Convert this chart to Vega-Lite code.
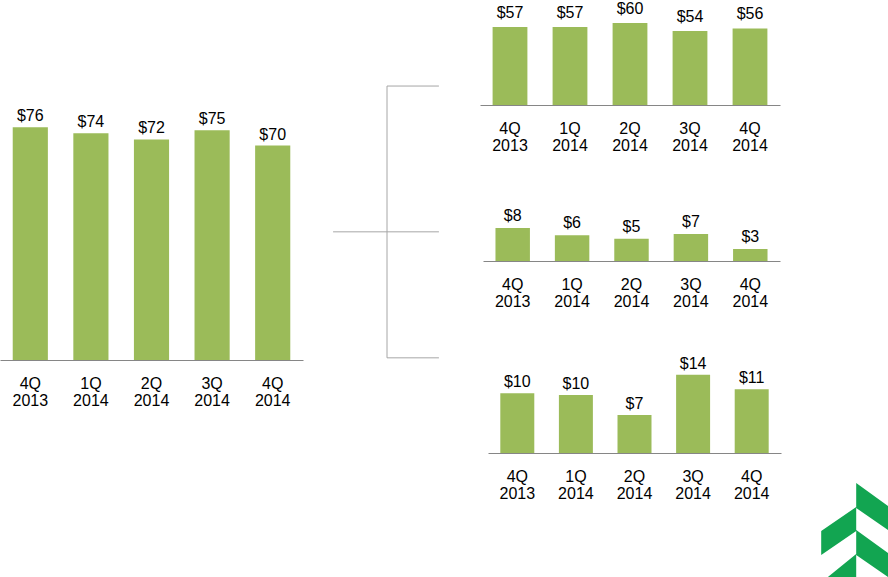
{
  "$schema": "https://vega.github.io/schema/vega-lite/v6.json",
  "padding": 0,
  "background": "white",
  "datasets": {
    "quarters": [
      {"group": "Total", "quarter": "4Q 2013", "value": 76},
      {"group": "Total", "quarter": "1Q 2014", "value": 74},
      {"group": "Total", "quarter": "2Q 2014", "value": 72},
      {"group": "Total", "quarter": "3Q 2014", "value": 75},
      {"group": "Total", "quarter": "4Q 2014", "value": 70},
      {"group": "Part 1", "quarter": "4Q 2013", "value": 57},
      {"group": "Part 1", "quarter": "1Q 2014", "value": 57},
      {"group": "Part 1", "quarter": "2Q 2014", "value": 60},
      {"group": "Part 1", "quarter": "3Q 2014", "value": 54},
      {"group": "Part 1", "quarter": "4Q 2014", "value": 56},
      {"group": "Part 2", "quarter": "4Q 2013", "value": 8.05},
      {"group": "Part 2", "quarter": "1Q 2014", "value": 6.3},
      {"group": "Part 2", "quarter": "2Q 2014", "value": 5.4},
      {"group": "Part 2", "quarter": "3Q 2014", "value": 6.6},
      {"group": "Part 2", "quarter": "4Q 2014", "value": 2.9},
      {"group": "Part 3", "quarter": "4Q 2013", "value": 10.4},
      {"group": "Part 3", "quarter": "1Q 2014", "value": 10.1},
      {"group": "Part 3", "quarter": "2Q 2014", "value": 6.6},
      {"group": "Part 3", "quarter": "3Q 2014", "value": 13.6},
      {"group": "Part 3", "quarter": "4Q 2014", "value": 11.1}
    ]
  },
  "config": {
    "view": {"stroke": null},
    "font": "Liberation Sans",
    "axisX": {
      "domainColor": "#868686",
      "domainWidth": 1,
      "ticks": false,
      "grid": false,
      "labelFont": "Liberation Sans",
      "labelFontSize": 16,
      "labelColor": "#000000",
      "labelAngle": 0,
      "labelPadding": 15,
      "labelLineHeight": 17,
      "title": null
    },
    "text": {"font": "Liberation Sans", "fontSize": 16, "color": "#000000"},
    "bar": {"color": "#9BBB59"}
  },
  "spacing": 0,
  "hconcat": [
    {
      "width": 303,
      "height": 360,
      "data": {"name": "quarters"},
      "transform": [{"filter": "datum.group === 'Total'"}],
      "encoding": {
        "x": {
          "field": "quarter", "type": "nominal", "sort": null,
          "scale": {"paddingInner": 0.42, "paddingOuter": 0.21},
          "axis": {"labelExpr": "split(datum.label, ' ')"}
        },
        "y": {
          "field": "value", "type": "quantitative",
          "scale": {"domain": [0, 117.5], "nice": false},
          "axis": null
        }
      },
      "layer": [
        {"mark": {"type": "bar"}},
        {
          "mark": {"type": "text", "baseline": "alphabetic", "dy": -6},
          "encoding": {"text": {"field": "value", "type": "quantitative", "format": "$.0f"}}
        }
      ]
    },
    {
      "width": 177,
      "height": 360,
      "data": {"values": [{}]},
      "layer": [
        {
          "mark": {"type": "rule", "color": "#A6A6A6", "strokeWidth": 1},
          "encoding": {
            "x": {"datum": 0.17, "type": "quantitative", "scale": {"domain": [0, 1]}, "axis": null},
            "x2": {"datum": 0.768},
            "y": {"datum": 0.644, "type": "quantitative", "scale": {"domain": [0, 1], "reverse": true}, "axis": null}
          }
        },
        {
          "mark": {"type": "rule", "color": "#A6A6A6", "strokeWidth": 1},
          "encoding": {
            "x": {"datum": 0.4746, "type": "quantitative", "scale": {"domain": [0, 1]}, "axis": null},
            "y": {"datum": 0.239, "type": "quantitative", "scale": {"domain": [0, 1], "reverse": true}, "axis": null},
            "y2": {"datum": 0.994}
          }
        },
        {
          "mark": {"type": "rule", "color": "#A6A6A6", "strokeWidth": 1},
          "encoding": {
            "x": {"datum": 0.4746, "type": "quantitative", "scale": {"domain": [0, 1]}, "axis": null},
            "x2": {"datum": 0.768},
            "y": {"datum": 0.239, "type": "quantitative", "scale": {"domain": [0, 1], "reverse": true}, "axis": null}
          }
        },
        {
          "mark": {"type": "rule", "color": "#A6A6A6", "strokeWidth": 1},
          "encoding": {
            "x": {"datum": 0.4746, "type": "quantitative", "scale": {"domain": [0, 1]}, "axis": null},
            "x2": {"datum": 0.768},
            "y": {"datum": 0.994, "type": "quantitative", "scale": {"domain": [0, 1], "reverse": true}, "axis": null}
          }
        }
      ]
    },
    {
      "spacing": 30,
      "vconcat": [
        {
          "width": 301,
          "height": 105,
          "data": {"name": "quarters"},
          "transform": [{"filter": "datum.group === 'Part 1'"}],
          "encoding": {
            "x": {
              "field": "quarter", "type": "nominal", "sort": null,
              "scale": {"paddingInner": 0.42, "paddingOuter": 0.21, "range": [0, 300]},
              "axis": {"labelExpr": "split(datum.label, ' ')"}
            },
            "y": {
              "field": "value", "type": "quantitative",
              "scale": {"domain": [0, 76.75], "nice": false},
              "axis": null
            }
          },
          "layer": [
            {"mark": {"type": "bar"}},
            {
              "mark": {"type": "text", "baseline": "alphabetic", "dy": -9},
              "encoding": {"text": {"field": "value", "type": "quantitative", "format": "$.0f"}}
            }
          ]
        },
        {
          "width": 301,
          "height": 78,
          "data": {"name": "quarters"},
          "transform": [{"filter": "datum.group === 'Part 2'"}],
          "encoding": {
            "x": {
              "field": "quarter", "type": "nominal", "sort": null,
              "scale": {"paddingInner": 0.42, "paddingOuter": 0.21, "range": [3, 300]},
              "axis": {"labelExpr": "split(datum.label, ' ')"}
            },
            "y": {
              "field": "value", "type": "quantitative",
              "scale": {"domain": [0, 19.02], "nice": false},
              "axis": null
            }
          },
          "layer": [
            {"mark": {"type": "bar"}},
            {
              "mark": {"type": "text", "baseline": "alphabetic", "dy": -7},
              "encoding": {"text": {"field": "value", "type": "quantitative", "format": "$.0f"}}
            }
          ]
        },
        {
          "width": 301,
          "height": 114,
          "data": {"name": "quarters"},
          "transform": [{"filter": "datum.group === 'Part 3'"}],
          "encoding": {
            "x": {
              "field": "quarter", "type": "nominal", "sort": null,
              "scale": {"paddingInner": 0.42, "paddingOuter": 0.21, "range": [8, 301]},
              "axis": {"labelExpr": "split(datum.label, ' ')"}
            },
            "y": {
              "field": "value", "type": "quantitative",
              "scale": {"domain": [0, 19.83], "nice": false},
              "axis": null
            }
          },
          "layer": [
            {"mark": {"type": "bar"}},
            {
              "mark": {"type": "text", "baseline": "alphabetic", "dy": -6},
              "encoding": {"text": {"field": "value", "type": "quantitative", "format": "$.0f"}}
            },
            {
              "transform": [{"filter": "datum.quarter === '4Q 2014'"}],
              "mark": {
                "type": "point",
                "shape": "M10.45,3.0 L13.85,5.45 L13.85,7.85 L10.45,5.5 Z M10.45,7.7 L13.85,10.15 L13.85,12.55 L10.45,10.2 Z M10.45,5.4 L6.95,7.8 L6.95,10.2 L10.45,7.8 Z M10.45,10.1 L7.25,12.7 L10.45,12.7 Z",
                "filled": true,
                "color": "#12A551",
                "opacity": 1,
                "size": 400,
                "strokeWidth": 0
              },
              "encoding": {"y": {"datum": 0}}
            }
          ]
        }
      ]
    }
  ]
}
